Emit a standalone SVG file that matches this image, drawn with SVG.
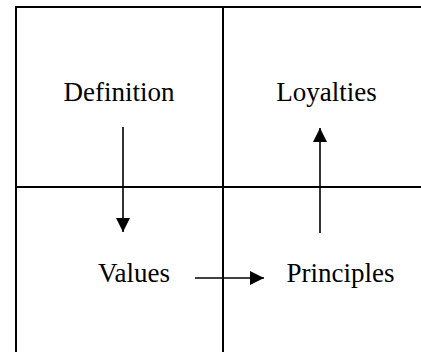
<svg xmlns="http://www.w3.org/2000/svg" width="421" height="352" viewBox="0 0 421 352">
<defs>
<style>
.grid{stroke:#000;stroke-width:2;fill:none}
.conn{stroke:#000;stroke-width:1.6;fill:none}
.lbl{font-family:"Liberation Serif","Times New Roman",serif;font-size:27px;fill:#000;text-anchor:middle}
</style>
<marker id="ah" viewBox="0 0 10 10" refX="10" refY="5" markerWidth="15" markerHeight="14" markerUnits="userSpaceOnUse" orient="auto">
<path d="M0,0 L10,5 L0,10 Z" fill="#000"/>
</marker>
</defs>
<rect width="421" height="352" fill="#fff"/>
<g id="grid">
<path class="grid" d="M16,360 V7 H430"/>
<line class="grid" x1="223" y1="7" x2="223" y2="360"/>
<line class="grid" x1="16" y1="187" x2="430" y2="187"/>
</g>
<g id="node-definition"><text class="lbl" x="119" y="101">Definition</text></g>
<g id="node-loyalties"><text class="lbl" x="326.5" y="101">Loyalties</text></g>
<g id="node-values"><text class="lbl" x="134" y="282">Values</text></g>
<g id="node-principles"><text class="lbl" x="340.5" y="282">Principles</text></g>
<g id="connectors">
<line class="conn" x1="123" y1="127" x2="123" y2="232" marker-end="url(#ah)"/>
<line class="conn" x1="320" y1="233" x2="320" y2="128" marker-end="url(#ah)"/>
<line class="conn" x1="195" y1="278" x2="264" y2="278" marker-end="url(#ah)"/>
</g>
</svg>
